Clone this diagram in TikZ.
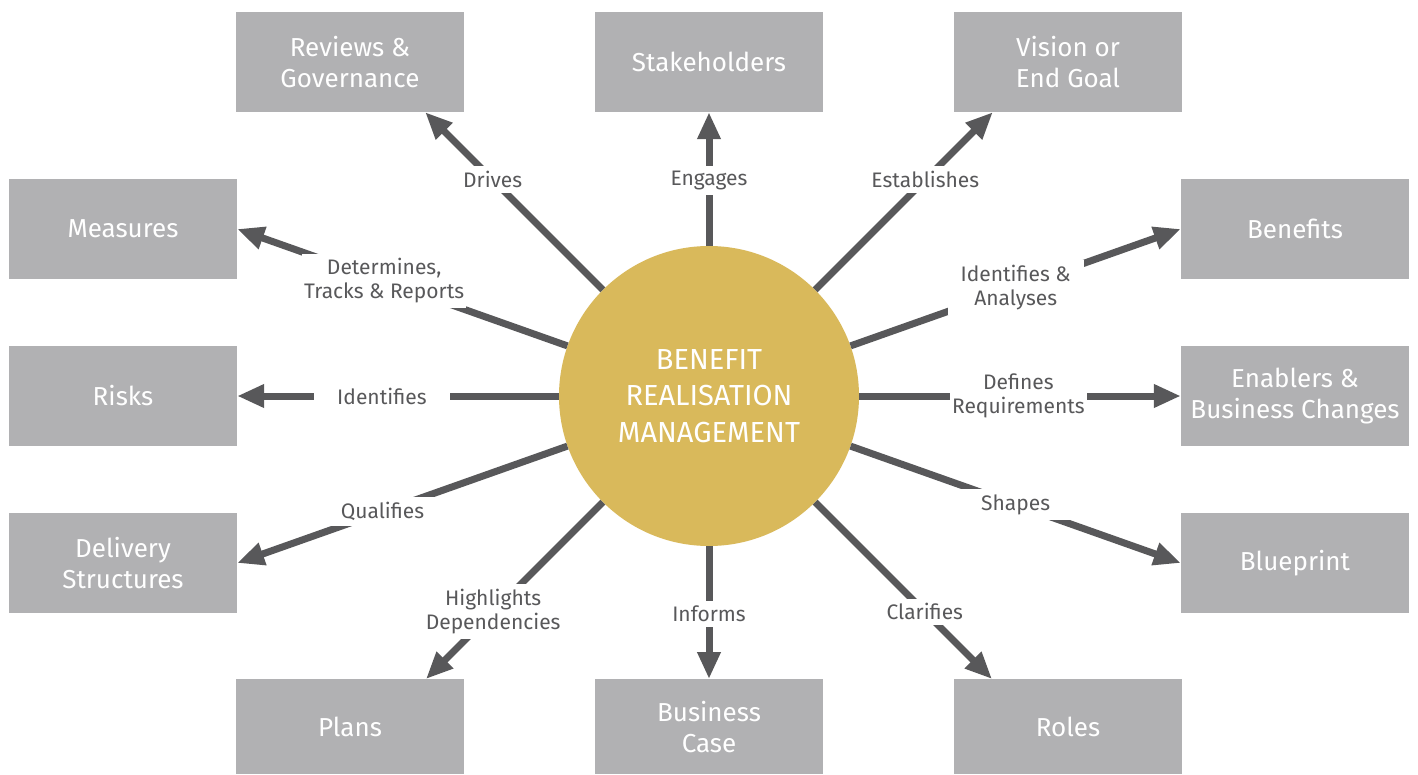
\documentclass[tikz,border=0pt]{standalone}
\usepackage{fontspec}
\setmainfont{Fira Sans}
\usepackage{tikz}
\usepackage{xcolor}
\usetikzlibrary{arrows.meta}
\definecolor{HubGold}{HTML}{D9B95B}
\definecolor{BoxGray}{HTML}{B1B1B3}
\definecolor{LineInk}{HTML}{58585A}

\begin{document}
\begin{tikzpicture}[
  x=1pt, y=1pt,
  hub/.style={
    circle,
    fill=HubGold,
    minimum size=300pt,
    inner sep=0pt,
    text=white,
    align=center,
    font={\fontsize{29}{36.5}\selectfont},
  },
  box/.style={
    rectangle,
    fill=BoxGray,
    minimum width=228pt,
    minimum height=100pt,
    inner sep=0pt,
    text=white,
    align=center,
    font={\fontsize{26}{31}\selectfont},
  },
  lowbox/.style={
    box,
    minimum height=95pt,
    anchor=north,
  },
  lbl/.style={
    fill=white,
    text=LineInk,
    minimum width=136pt,
    inner xsep=2pt,
    inner ysep=5pt,
    align=center,
    font={\fontsize{21}{24}\selectfont},
  },
  arr/.style={
    draw=LineInk,
    line width=7pt,
    -{Triangle[length=27pt, width=22pt]},
  },
]
  \useasboundingbox[fill=white] (-709,-378) rectangle (709,396);

  \node[hub] (hub) at (0,0) {BENEFIT\\REALISATION\\MANAGEMENT};

  \node[box] (rev) at (-359,334) {Reviews \&\\Governance};
  \node[box] (stk) at (hub |- rev) {Stakeholders};
  \node[box] (vis) at (359,334) {Vision or\\End Goal};

  \node[box] (mea) at (-586,167) {Measures};
  \node[box] (ben) at (586,167) {Benefits};
  \node[box] (rsk) at (mea |- hub) {Risks};
  \node[box] (ena) at (ben |- hub) {Enablers \&\\Business Changes};
  \node[box] (dls) at (-586,-167) {Delivery\\Structures};
  \node[box] (blu) at (586,-167) {Blueprint};

  \node[lowbox] (pln) at (-359,-283) {Plans};
  \node[lowbox] (bus) at (0,-283) {Business\\Case};
  \node[lowbox] (rol) at (359,-283) {Roles};

  \draw[arr] (hub) -- node[lbl, pos=0.62] (lDrv) {Drives}
    (intersection of hub.center--hub.135 and rev.south west--rev.south east);
  \draw[arr] (hub) -- node[lbl, pos=0.49] (lEng) {Engages} (stk);
  \draw[arr] (hub) -- node[lbl, pos=0.62] (lEst) {Establishes}
    (intersection of hub.center--hub.45 and vis.south west--vis.south east);

  \draw[arr] (hub) -- node[lbl, pos=0.555] (lDet) {Determines,\\Tracks \& Reports} (mea.east);
  \draw[arr] (hub) -- node[lbl, pos=0.5] (lIda) {Identifies \&\\Analyses} (ben.west);
  \draw[arr] (hub) -- node[lbl, pos=0.55] (lIdf) {Identifies} (rsk);
  \draw[arr] (hub) -- node[lbl, pos=0.495] (lDef) {Defines\\Requirements} (ena);
  \draw[arr] (hub) -- node[lbl, pos=0.56] (lQua) {Qualifies} (dls.east);
  \draw[arr] (hub) -- node[lbl, pos=0.5] (lShp) {Shapes} (blu.west);

  \draw[arr] (hub) -- node[lbl, pos=0.62] (lHig) {Highlights\\Dependencies}
    (intersection of hub.center--hub.225 and pln.north west--pln.north east);
  \draw[arr] (hub) -- node[lbl, pos=0.51] (lInf) {Informs} (bus);
  \draw[arr] (hub) -- node[lbl, pos=0.62] (lCla) {Clarifies}
    (intersection of hub.center--hub.-45 and rol.north west--rol.north east);
\end{tikzpicture}
\end{document}
